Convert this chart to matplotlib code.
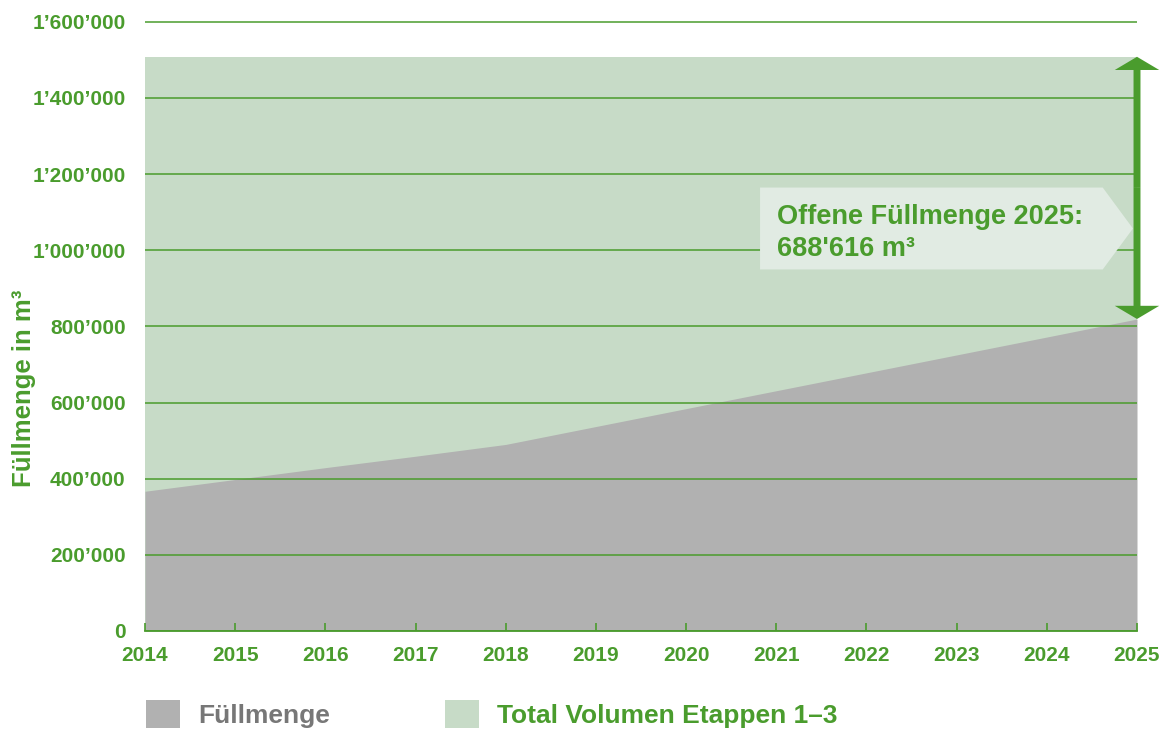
import matplotlib.pyplot as plt
from matplotlib.patches import Patch, Polygon, FancyArrowPatch, ArrowStyle
from matplotlib.ticker import FuncFormatter

plt.rcParams['font.family'] = ['Liberation Sans', 'DejaVu Sans']
plt.rcParams['font.weight'] = 'bold'

green = '#4a9c2d'
grey = '#b1b1b1'
light_green = '#c7dbc7'

years = [2014, 2015, 2016, 2017, 2018, 2019, 2020, 2021, 2022, 2023, 2024, 2025]
fuellmenge = [367000, 398000, 429000, 459000, 490000, 537000, 584000,
              631000, 678000, 725000, 772000, 819384]
total_volumen = 1508000
offen_2025 = 688616
y_ticks = [0, 200000, 400000, 600000, 800000, 1000000, 1200000, 1400000, 1600000]


def fmt_swiss(v, pos=None):
    return f'{int(v):,}'.replace(',', '\u2019')


fig = plt.figure(figsize=(11.61, 7.33), dpi=100)
ax = fig.add_axes([145 / 1161, 102 / 733, 992 / 1161, 610 / 733])

ax.fill_between(years, 0, total_volumen, color=light_green, lw=0, zorder=1)
ax.fill_between(years, 0, fuellmenge, color=grey, lw=0, zorder=1.5)

ax.set_xlim(2014, 2025)
ax.set_ylim(0, 1602000)
ax.set_xticks(years)
ax.set_yticks(y_ticks)
ax.yaxis.set_major_formatter(FuncFormatter(fmt_swiss))

ax.grid(axis='y', color=green, lw=1.1)
ax.set_axisbelow(False)
for s in ['top', 'right', 'left']:
    ax.spines[s].set_visible(False)
ax.spines['bottom'].set_color(green)
ax.spines['bottom'].set_linewidth(1.3)
ax.spines['bottom'].set_zorder(3)

ax.tick_params(axis='x', direction='in', length=6, width=1.2, color=green,
               labelcolor=green, labelsize=15, pad=11)
ax.tick_params(axis='y', length=0, labelcolor=green, labelsize=15, pad=14)
for lab in ax.get_xticklabels() + ax.get_yticklabels():
    lab.set_fontweight('bold')

fig.text(24 / 1161, (733 - 388) / 733, 'Füllmenge in m³', rotation=90,
         color=green, fontsize=18.5, fontweight='bold', ha='center', va='center')

# double arrow for the open volume in 2025 (two filled arrows from the middle)
mid = (fuellmenge[-1] + total_volumen) / 2
for end in (total_volumen, fuellmenge[-1]):
    arr = FancyArrowPatch((2025, mid), (2025, end),
                          arrowstyle=ArrowStyle('simple', head_length=9.5,
                                                head_width=32, tail_width=5),
                          mutation_scale=1, lw=0, color=green, zorder=6,
                          clip_on=False, shrinkA=0, shrinkB=0)
    ax.add_patch(arr)

# callout box pointing to the arrow
callout = Polygon([(2020.82, 1164600), (2024.62, 1164600), (2024.955, 1057000),
                   (2024.62, 949500), (2020.82, 949500)],
                  closed=True, facecolor='#e1ebe3', edgecolor='none', zorder=4)
ax.add_patch(callout)
ax.text(2021.01, 1046000, f'Offene Füllmenge 2025:\n{offen_2025:,}'.replace(',', "'") + ' m³',
        color=green, fontsize=19.5, fontweight='bold', ha='left', va='center',
        linespacing=1.3, zorder=5)

handles = [Patch(facecolor=grey, edgecolor='none'),
           Patch(facecolor=light_green, edgecolor='none')]
leg = fig.legend(handles, ['Füllmenge', 'Total Volumen Etappen 1–3'],
                 loc='center left', bbox_to_anchor=(146 / 1161, 19 / 733),
                 ncol=2, frameon=False, fontsize=19, handlelength=1.29,
                 handleheight=1.29, handletextpad=0.68, columnspacing=4.35,
                 borderpad=0, borderaxespad=0)
for t, c in zip(leg.get_texts(), ['#777777', green]):
    t.set_color(c)
    t.set_fontweight('bold')

plt.savefig('out.png', dpi=100)
